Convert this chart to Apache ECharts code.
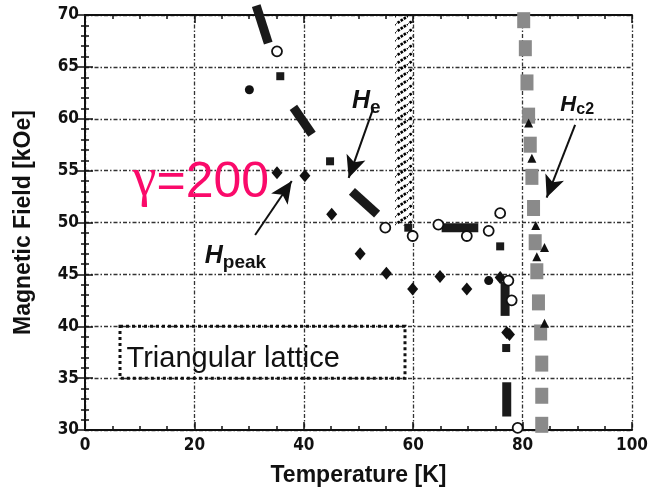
<!DOCTYPE html>
<html><head><meta charset="utf-8">
<script src="https://cdn.jsdelivr.net/npm/echarts@6/dist/echarts.min.js"></script>
<style>html,body{margin:0;padding:0;background:#fff}#c{width:660px;height:492px}</style>
</head><body><div id="c"></div>
<script>
// ---- data (Temperature [K], Magnetic Field [kOe]) ----
const xTicks = [0, 20, 40, 60, 80, 100];
const yTicks = [30, 35, 40, 45, 50, 55, 60, 65, 70];
const hc2Squares = [[80.2,69.5],[80.5,66.8],[80.8,63.5],[81.1,60.3],[81.4,57.5],[81.7,54.4],[82.0,51.4],[82.3,48.1],[82.6,45.3],[82.9,42.3],[83.3,39.4],[83.5,36.4],[83.5,33.3],[83.5,30.5]];
const hc2Triangles = [[81.1,59.6],[81.7,56.2],[82.4,49.7],[82.6,46.7],[84.0,47.6],[84.0,40.3]];
const heDashes = [
  [[31.3,70.9],[33.5,67.3]],
  [[38.1,61.1],[41.5,58.5]],
  [[48.8,53.0],[53.4,50.8]],
  [[65.2,49.5],[71.9,49.5]],
  [[76.8,44.3],[76.8,41.0]],
  [[77.1,34.6],[77.1,31.3]]
];
const heSquares = [[35.7,64.1],[44.8,55.9],[59.1,49.5],[75.9,47.7],[77.0,37.9]];
const openCircles = [[35.1,66.5],[54.9,49.5],[59.9,48.7],[64.6,49.8],[69.8,48.7],[73.8,49.2],[75.9,50.9],[77.4,44.4],[78.0,42.5],[79.1,30.2]];
const peakDiamonds = [[35.1,54.8],[40.2,54.5],[45.1,50.8],[50.3,47.0],[55.1,45.1],[59.9,43.6],[64.9,44.8],[69.8,43.6],[75.9,44.7],[77.1,39.4],[77.6,39.2]];
const filledCircles = [[30.05,62.8],[73.8,44.4]];
const hatchT = [56.7, 59.9];
const hatchH = [49.7, 70.4];
const latticeBoxT = [6.4, 58.5];
const latticeBoxH = [35, 40];
const arrowPeak = [[31.1,48.8],[37.8,54.0]];
const arrowHe = [[52.7,61.0],[48.2,54.3]];
const arrowHc2 = [[89.6,59.4],[84.4,52.4]];
const labelPeakAt = [21.9,45.6];
const labelHeAt = [48.8,60.5];
const labelHc2At = [86.9,60.3];
const gammaAt = [8.7,51.4];
const latticeTextAt = [7.6,35.4];

// hatch pattern
const pc = document.createElement('canvas');
pc.width = 12; pc.height = 8;
const px = pc.getContext('2d');
px.strokeStyle = '#000'; px.lineWidth = 2.6; px.setLineDash([2.6, 1.1]);
px.beginPath(); px.moveTo(-1.5, 9); px.lineTo(13.5, -1); px.stroke();

const chart = echarts.init(document.getElementById('c'), null, {renderer: 'canvas'});
const tickFont = {fontFamily: "'Liberation Sans Narrow','DejaVu Sans Condensed',sans-serif", fontWeight: 'bold', fontSize: 17, color: '#111'};
const gridLine = {show: true, lineStyle: {color: '#333', width: 1.3, type: [4, 2, 1.5, 2]}};
const axisLineStyle = {show: true, lineStyle: {color: '#111', width: 2}};
const nameFont = {fontFamily: 'Liberation Sans', fontWeight: 'bold', fontSize: 23, color: '#111'};

const series = [];
series.push({
  type: 'line', data: [], silent: true,
  markArea: {
    silent: true,
    itemStyle: {opacity: 1},
    data: [
      [{coord: [hatchT[0], hatchH[0]], itemStyle: {color: {image: pc, repeat: 'repeat'}, borderWidth: 0, opacity: 1}},
       {coord: [hatchT[1], hatchH[1]]}],
      [{coord: [latticeBoxT[0], latticeBoxH[1]], itemStyle: {color: 'rgba(0,0,0,0)', borderColor: '#111', borderWidth: 3, borderType: [3, 3], opacity: 1}},
       {coord: [latticeBoxT[1], latticeBoxH[0]]}]
    ],
    label: {show: false}
  },
  markLine: {
    silent: true, symbol: ['none', 'arrow'], symbolSize: [15, 22],
    lineStyle: {color: '#111', width: 2, type: 'solid'},
    label: {show: false},
    data: [arrowPeak, arrowHe, arrowHc2].map(a => [{coord: a[0]}, {coord: a[1]}])
  },
  markPoint: {
    silent: true, symbol: 'circle', symbolSize: 0,
    data: [
      {coord: labelPeakAt, label: {formatter: '{h|H}{s|peak}'}},
      {coord: labelHeAt, label: {formatter: '{h|H}{s|e}'}},
      {coord: labelHc2At, label: {formatter: '{h2|H}{s2|c2}'}},
      {coord: gammaAt, label: {formatter: '{g|γ}{e|=200}'}},
      {coord: latticeTextAt, label: {formatter: '{t|Triangular lattice}'}}
    ],
    label: {
      show: true, position: [0, 0], align: 'left', verticalAlign: 'bottom',
      rich: {
        h: {fontFamily: 'Liberation Sans', fontStyle: 'italic', fontWeight: 'bold', fontSize: 25, color: '#111', verticalAlign: 'bottom', lineHeight: 26},
        s: {fontFamily: 'Liberation Sans', fontWeight: 'bold', fontSize: 19, color: '#111', verticalAlign: 'bottom', lineHeight: 22, padding: [0,0,-4,0]},
        h2: {fontFamily: 'Liberation Sans', fontStyle: 'italic', fontWeight: 'bold', fontSize: 22, color: '#111', verticalAlign: 'bottom', lineHeight: 24},
        s2: {fontFamily: 'Liberation Sans', fontWeight: 'bold', fontSize: 16, color: '#111', verticalAlign: 'bottom', lineHeight: 20, padding: [0,0,-2,0]},
        g: {fontFamily: 'Liberation Serif', fontSize: 54, color: '#fa0a6a', verticalAlign: 'bottom', lineHeight: 52},
        e: {fontFamily: 'Liberation Sans', fontSize: 50, color: '#fa0a6a', verticalAlign: 'bottom', lineHeight: 52},
        t: {fontFamily: 'Liberation Sans', fontSize: 29, color: '#111', lineHeight: 30}
      }
    }
  },
  z: 1
});
heDashes.forEach(seg => series.push({
  type: 'line', data: seg, symbol: 'none', clip: false, silent: true,
  lineStyle: {color: '#1a1a1a', width: 9, cap: 'butt', opacity: 1}, z: 3
}));
const op = {opacity: 1};
series.push({type: 'scatter', data: heSquares, symbol: 'rect', symbolSize: 8, itemStyle: Object.assign({color: '#1a1a1a'}, op), z: 3});
series.push({type: 'scatter', data: hc2Squares, symbol: 'rect', symbolSize: [13, 16], clip: false, itemStyle: Object.assign({color: '#8a8a8a'}, op), z: 3});
series.push({type: 'scatter', data: hc2Triangles, symbol: 'triangle', symbolSize: 9, itemStyle: Object.assign({color: '#111'}, op), z: 4});
series.push({type: 'scatter', data: peakDiamonds, symbol: 'diamond', symbolSize: [11, 13], itemStyle: Object.assign({color: '#111'}, op), z: 4});
series.push({type: 'scatter', data: filledCircles, symbol: 'circle', symbolSize: 9, itemStyle: Object.assign({color: '#111'}, op), z: 4});
series.push({type: 'scatter', data: openCircles, symbol: 'circle', symbolSize: 10, itemStyle: Object.assign({color: '#fff', borderColor: '#111', borderWidth: 1.8}, op), z: 5});

function axisCommon(minorSplit) {
  return {
    axisLine: axisLineStyle,
    axisTick: {inside: true, length: 8, lineStyle: {color: '#111', width: 1.5}},
    minorTick: {show: true, splitNumber: minorSplit, length: 4, lineStyle: {color: '#111', width: 1.5}}
  };
}
const xRange = {type: 'value', min: xTicks[0], max: xTicks[xTicks.length-1], interval: xTicks[1]-xTicks[0]};
const yRange = {type: 'value', min: yTicks[0], max: yTicks[yTicks.length-1], interval: yTicks[1]-yTicks[0]};

chart.setOption({
  animation: false,
  backgroundColor: '#fff',
  grid: {left: 85, right: 28, top: 15, bottom: 57, containLabel: false},
  xAxis: [
    Object.assign({}, xRange, axisCommon(4), {position: 'bottom',
      axisLabel: Object.assign({margin: 7}, tickFont), splitLine: gridLine,
      name: 'Temperature [K]', nameLocation: 'middle', nameGap: 34, nameTextStyle: nameFont}),
    Object.assign({}, xRange, axisCommon(4), {position: 'top', axisLabel: {show: false}, splitLine: {show: false}})
  ],
  yAxis: [
    Object.assign({}, yRange, axisCommon(5), {position: 'left',
      axisLabel: Object.assign({margin: 6}, tickFont), splitLine: gridLine,
      name: 'Magnetic Field [kOe]', nameLocation: 'middle', nameGap: 50, nameRotate: 90, nameTextStyle: nameFont}),
    Object.assign({}, yRange, axisCommon(5), {position: 'right', axisLabel: {show: false}, splitLine: {show: false}})
  ],
  series: series
});
</script></body></html>
